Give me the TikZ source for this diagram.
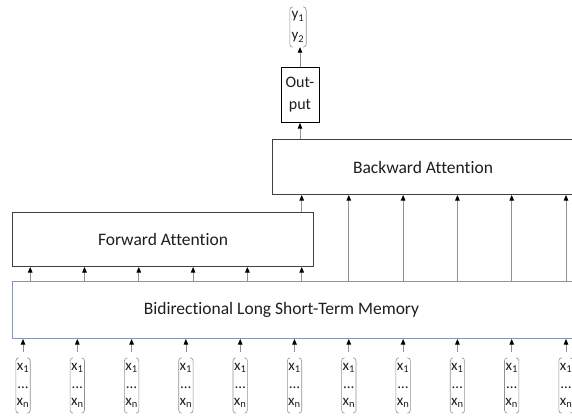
\documentclass[tikz,border=0pt]{standalone}
\usepackage{fontspec}
\setmainfont{Carlito}[Ligatures=NoCommon]
\usetikzlibrary{arrows.meta,positioning}
\definecolor{lstmblue}{RGB}{132,151,176}
\definecolor{boxgray}{RGB}{64,64,64}
\definecolor{arrgray}{RGB}{145,145,145}
\definecolor{textgray}{RGB}{30,30,30}
\begin{document}
\begin{tikzpicture}[x=1pt, y=-1pt,
    layer/.style={rectangle, draw=boxgray, line width=1pt, fill=white, inner sep=0pt,
      text=textgray, font=\fontsize{17.5}{21}\selectfont},
    vec/.style={rectangle, inner sep=0pt, text width=14pt, align=center, text=textgray,
      minimum height=55pt, font=\fontsize{15}{17.5}\selectfont},
    brk/.style={draw=arrgray, line width=0.6pt, rounded corners=3pt},
    arr/.style={-{Triangle[length=5.5pt, width=4.5pt, color=black]}, draw=arrgray, line width=0.8pt}
  ]
    \useasboundingbox (0,0) rectangle (572,416);
    \clip (0,0) rectangle (572,416);
    % Layers
    \node[layer, draw=lstmblue, anchor=north west, minimum width=600pt, minimum height=57pt]
      (lstm) at (12,281) {};
    \node[text=textgray, font=\fontsize{17.5}{21}\selectfont] (lstmtext) at (281.5,309.5)
      {Bidirectional Long Short-Term Memory};
    \node[layer, anchor=north west, minimum width=301pt, minimum height=54pt]
      (fwd) at (12,212) {Forward Attention};
    \node[layer, anchor=north west, minimum width=301pt, minimum height=55pt]
      (bwd) at (272,139) {Backward Attention};
    \node[layer, draw=black, anchor=north, minimum width=38pt, minimum height=55pt, align=center,
      font=\fontsize{16}{22}\selectfont] (out) at (300,67) {Out-\\put};
    % Output vector
    \node[vec, text width=16pt, minimum height=40pt, font=\fontsize{15}{21}\selectfont]
      (y) at (298,27) {y\textsubscript{1}\\y\textsubscript{2}};
    \draw[brk] ([xshift=3pt]y.north west) -- (y.north west) -- (y.south west) -- ([xshift=3pt]y.south west);
    \draw[brk] ([xshift=-3pt]y.north east) -- (y.north east) -- (y.south east) -- ([xshift=-3pt]y.south east);
    % Input vectors
    \foreach \i in {1,...,11} {
      \node[vec] (x\i) at ({23+54.3*(\i-1)},385.5) {x\textsubscript{1}\\…\\x\textsubscript{n}};
      \draw[brk] ([xshift=3pt]x\i.north west) -- (x\i.north west) -- (x\i.south west) -- ([xshift=3pt]x\i.south west);
      \draw[brk] ([xshift=-3pt]x\i.north east) -- (x\i.north east) -- (x\i.south east) -- ([xshift=-3pt]x\i.south east);
      \draw[arr, shorten <=6pt] (x\i.north) -- (lstm.south -| x\i.north);
    }
    % Connections
    \foreach \i in {1,...,6}
      \draw[arr] (lstm.north -| x\i.east) -- (fwd.south -| x\i.east);
    \foreach \i in {7,...,11}
      \draw[arr] (lstm.north -| x\i.north) -- (bwd.south -| x\i.north);
    \draw[arr] (fwd.north -| x6.east) -- (bwd.south -| x6.east);
    \draw[arr] (bwd.north -| out.south) -- (out.south);
    \draw[arr] (out.north) -- (y.south -| out.north);
\end{tikzpicture}
\end{document}
